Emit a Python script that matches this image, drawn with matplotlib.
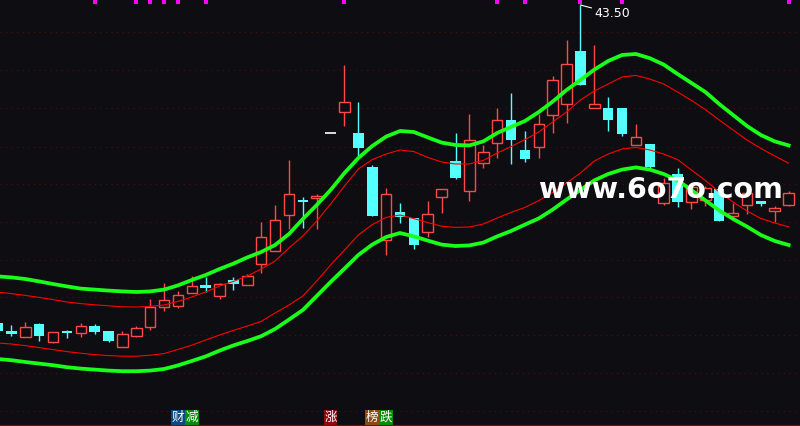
import matplotlib
matplotlib.use("Agg")
import matplotlib.pyplot as plt
import numpy as np

plt.rcParams['font.family'] = ['Noto Sans CJK SC', 'DejaVu Sans']

# daily candles, price units
opens = [27.60, 27.20, 26.92, 27.55, 26.67, 27.19, 27.12, 27.47, 27.22, 26.42,
         26.97, 27.42, 28.39, 28.47, 29.12, 29.50, 28.97, 29.77, 29.49, 30.54,
         31.19, 32.98, 33.75, 33.87, 37.10, 38.14, 37.10, 35.40, 31.74, 33.17,
         32.87, 32.17, 33.92, 35.70, 34.22, 35.62, 36.58, 37.75, 36.25, 36.38,
         38.02, 38.54, 41.20, 38.34, 38.34, 38.34, 36.48, 36.55, 33.59, 35.04,
         33.67, 33.75, 34.30, 32.96, 33.49, 33.70, 33.22, 33.50]
closes = [27.20, 27.05, 27.39, 26.95, 27.15, 27.12, 27.45, 27.15, 26.70, 27.05,
          27.35, 28.40, 28.74, 28.99, 29.44, 29.37, 29.54, 29.54, 29.94, 31.89,
          32.74, 34.04, 33.65, 33.97, 37.10, 38.64, 36.37, 32.97, 34.04, 32.89,
          31.50, 33.04, 34.29, 34.87, 36.74, 36.13, 37.75, 36.77, 35.82, 37.54,
          39.75, 40.55, 39.52, 38.54, 37.76, 37.05, 36.89, 35.42, 34.59, 33.67,
          34.39, 34.35, 32.72, 33.09, 34.09, 33.57, 33.34, 34.11]
highs = [27.60, 27.50, 27.65, 27.60, 27.15, 27.25, 27.60, 27.55, 27.22, 27.20,
         27.47, 28.80, 29.59, 29.20, 29.94, 29.92, 29.59, 29.90, 30.04, 32.67,
         33.50, 35.75, 33.89, 34.05, 37.10, 40.50, 38.65, 35.50, 34.35, 33.60,
         32.87, 33.70, 34.29, 37.08, 38.04, 36.50, 38.35, 39.11, 37.20, 38.05,
         39.95, 41.75, 43.50, 41.50, 38.90, 38.34, 37.54, 36.55, 34.85, 35.34,
         34.50, 34.45, 34.45, 33.60, 34.09, 33.70, 33.45, 34.19]
lows = [27.20, 26.95, 26.92, 26.70, 26.58, 26.87, 26.92, 27.07, 26.65, 26.42,
        26.92, 27.25, 28.20, 28.37, 29.12, 29.17, 28.80, 29.27, 29.49, 30.09,
        31.19, 32.32, 32.37, 32.32, 37.10, 37.47, 35.95, 32.97, 31.02, 32.62,
        31.32, 31.92, 33.12, 34.80, 33.70, 35.37, 35.87, 35.53, 35.67, 35.83,
        37.08, 37.59, 39.52, 38.34, 37.21, 36.96, 36.48, 35.27, 33.50, 33.39,
        33.28, 33.45, 32.72, 32.84, 33.07, 33.47, 32.67, 33.44]

# band lines
upper_band = [29.93, 29.88, 29.80, 29.68, 29.55, 29.43, 29.32, 29.27, 29.22, 29.18,
              29.15, 29.18, 29.27, 29.48, 29.75, 30.00, 30.30, 30.57, 30.88, 31.15,
              31.50, 32.05, 32.80, 33.50, 34.25, 35.10, 35.85, 36.45, 36.92, 37.20,
              37.15, 36.88, 36.62, 36.50, 36.48, 36.68, 37.10, 37.40, 37.70, 38.15,
              38.67, 39.25, 39.75, 40.27, 40.70, 41.00, 41.05, 40.84, 40.52, 40.05,
              39.60, 39.15, 38.55, 38.00, 37.45, 37.00, 36.68, 36.48]
upper_mid = [29.15, 29.07, 28.98, 28.88, 28.77, 28.65, 28.57, 28.51, 28.46, 28.41,
             28.40, 28.43, 28.50, 28.68, 28.90, 29.15, 29.45, 29.68, 29.95, 30.30,
             30.70, 31.35, 31.95, 32.70, 33.55, 34.45, 35.30, 35.77, 36.05, 36.25,
             36.17, 35.88, 35.65, 35.55, 35.55, 35.73, 36.10, 36.42, 36.77, 37.15,
             37.65, 38.15, 38.75, 39.20, 39.55, 39.90, 39.98, 39.80, 39.55, 39.15,
             38.73, 38.27, 37.75, 37.25, 36.75, 36.33, 35.95, 35.59]
lower_mid = [26.60, 26.55, 26.47, 26.37, 26.27, 26.17, 26.09, 26.02, 25.97, 25.94,
             25.94, 25.99, 26.07, 26.28, 26.49, 26.75, 27.00, 27.23, 27.45, 27.68,
             28.10, 28.50, 28.95, 29.70, 30.50, 31.25, 32.00, 32.52, 32.88, 33.00,
             32.82, 32.62, 32.44, 32.38, 32.40, 32.55, 32.85, 33.13, 33.38, 33.72,
             34.13, 34.60, 35.10, 35.70, 36.05, 36.30, 36.38, 36.25, 36.05, 35.77,
             35.25, 34.73, 34.15, 33.65, 33.20, 32.83, 32.60, 32.41]
lower_band = [25.80, 25.74, 25.65, 25.57, 25.49, 25.39, 25.32, 25.27, 25.22, 25.19,
              25.19, 25.22, 25.30, 25.48, 25.70, 25.93, 26.22, 26.48, 26.70, 26.94,
              27.30, 27.77, 28.25, 28.95, 29.65, 30.32, 31.00, 31.52, 31.90, 32.10,
              31.93, 31.72, 31.52, 31.45, 31.48, 31.62, 31.93, 32.20, 32.52, 32.83,
              33.27, 33.77, 34.25, 34.73, 35.05, 35.27, 35.38, 35.27, 35.05, 34.73,
              34.25, 33.73, 33.23, 32.80, 32.42, 32.00, 31.70, 31.50]

grid_levels = [42.15, 40.25, 38.35, 36.40, 34.55, 32.65, 30.75, 28.90, 27.00, 25.10, 23.20]
flag_days = [7, 10, 11, 12, 13, 15, 25, 36, 38, 42, 45, 57]
events = [(13, '财', '#0d4a80'), (14, '减', '#0a8a0a'), (24, '涨', '#8c0a0a'),
          (27, '榜', '#8c4a10'), (28, '跌', '#0a8a0a')]
peak_day = 42

bg = '#0e0e12'
up_col = '#ff4848'
down_col = '#54ffff'
green = '#1aff1a'
red_line = '#ff0000'

fig = plt.figure(figsize=(8, 4.26), dpi=100, facecolor=bg)
ax = fig.add_axes([0, 0, 1, 1])
ax.set_facecolor(bg)

x = np.arange(len(opens))
w = 0.76

for lv in grid_levels:
    ax.axhline(lv, color='#5c0808', lw=0.8, ls=(0, (1, 4)), zorder=0)
ax.axhline(22.47, color='#8a0000', lw=1.6, zorder=0)

for i in x:
    o, c, h, l = opens[i], closes[i], highs[i], lows[i]
    if o == c and h == l:
        ax.hlines(o, i - w / 2, i + w / 2, color='white', lw=1.2, zorder=2)
        continue
    top, bot = max(o, c), min(o, c)
    if c > o:
        ax.vlines(i, top, h, color=up_col, lw=1, zorder=2)
        ax.vlines(i, l, bot, color=up_col, lw=1, zorder=2)
        ax.bar(i, top - bot, bottom=bot, width=w, facecolor=bg,
               edgecolor=up_col, lw=1, zorder=2)
    else:
        ax.vlines(i, l, h, color=down_col, lw=1, zorder=2)
        ax.bar(i, max(top - bot, 0.06), bottom=bot, width=w, color=down_col,
               lw=0, zorder=2)

ax.plot(x, upper_mid, color=red_line, lw=0.8, zorder=3, solid_joinstyle='round')
ax.plot(x, lower_mid, color=red_line, lw=0.8, zorder=3, solid_joinstyle='round')
ax.plot(x, upper_band, color=green, lw=2.7, zorder=4, solid_joinstyle='round')
ax.plot(x, lower_band, color=green, lw=2.7, zorder=4, solid_joinstyle='round')

ax.scatter(flag_days, [43.63] * len(flag_days), marker='s', s=5,
           color='#ff00ff', lw=0, zorder=5)

ax.annotate('%.2f' % highs[peak_day], xy=(peak_day, highs[peak_day]),
            xytext=(10, -6), textcoords='offset points', color='white',
            fontsize=9, family='DejaVu Sans', va='center', ha='left',
            arrowprops=dict(arrowstyle='-', color='white', lw=0.8,
                            shrinkA=0, shrinkB=0), zorder=6)

for d, ch, col in events:
    ax.text(d, 22.88, ch, ha='center', va='center', color='white', fontsize=9,
            bbox=dict(boxstyle='square,pad=0.05', fc=col, ec='none'), zorder=6)

ax.text(47.8, 34.25, 'www.6o7o.com', color='white', fontsize=20.5,
        fontweight='bold', family='DejaVu Sans', ha='center', va='center',
        zorder=7)

ax.set_xlim(0.18, 57.82)
ax.set_ylim(22.45, 43.75)
ax.axis('off')

fig.savefig('out.png', dpi=100, facecolor=bg)
